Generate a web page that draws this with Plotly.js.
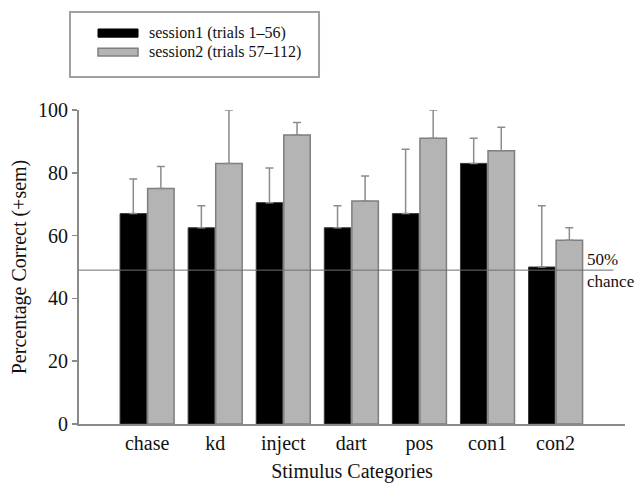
<!DOCTYPE html>
<html>
<head>
<meta charset="utf-8">
<script src="https://cdn.plot.ly/plotly-3.0.1.min.js"></script>
<style>html,body{margin:0;padding:0;background:#fff;}#chart{width:637px;height:486px;}</style>
</head>
<body>
<div id="chart"></div>
<script>
const categories = ["chase", "kd", "inject", "dart", "pos", "con1", "con2"];
const session1 = [67, 62.5, 70.5, 62.5, 67, 83, 50];
const session1Sem = [11, 7, 11, 7, 20.5, 8, 19.5];
const session2 = [75, 83, 92, 71, 91, 87, 58.5];
const session2Sem = [7, 17, 4, 8, 9, 7.5, 4];
const seriesNames = ["session1 (trials 1\u201356)", "session2 (trials 57\u2013112)"];
const chanceLevel = 49;
const yTicks = [0, 20, 40, 60, 80, 100];

const serif = "Liberation Serif";
const zeros = categories.map(() => 0);

const traces = [
  {
    type: "bar", name: seriesNames[0], x: categories, y: session1,
    marker: {color: "#000000", line: {color: "#3a3a3a", width: 1}},
    error_y: {type: "data", symmetric: false, array: session1Sem, arrayminus: zeros,
              color: "#8c8c8c", thickness: 1.5, width: 4},
    showlegend: false
  },
  {
    type: "bar", name: seriesNames[1], x: categories, y: session2,
    marker: {color: "#b4b4b4", line: {color: "#7f7f7f", width: 1.5}},
    error_y: {type: "data", symmetric: false, array: session2Sem, arrayminus: zeros,
              color: "#8c8c8c", thickness: 1.5, width: 4},
    showlegend: false
  }
];

const layout = {
  width: 637, height: 486,
  margin: {l: 79, r: 12, t: 110, b: 62},
  paper_bgcolor: "#ffffff", plot_bgcolor: "#ffffff",
  font: {family: serif, size: 19, color: "#111"},
  barmode: "group", bargap: 0.19, bargroupgap: 0.04,
  showlegend: false,
  xaxis: {
    type: "category", range: [-1, 7.02],
    showline: true, linecolor: "#8a8a8a", linewidth: 2,
    ticks: "", showgrid: false, zeroline: false,
    tickfont: {family: serif, size: 20, color: "#111"},
    title: {text: "Stimulus Categories", font: {family: serif, size: 20, color: "#111"}, standoff: 10}
  },
  yaxis: {
    range: [0, 100], tickvals: yTicks,
    showline: true, linecolor: "#8a8a8a", linewidth: 2,
    ticks: "outside", ticklen: 5, tickcolor: "#8a8a8a", tickwidth: 1.5,
    showgrid: false, zeroline: false,
    tickfont: {family: serif, size: 20, color: "#111"},
    title: {text: "Percentage Correct (+sem)", font: {family: serif, size: 20, color: "#111"}, standoff: 6}
  },
  shapes: [
    {type: "line", xref: "x", yref: "y", x0: -1, x1: 6.85, y0: chanceLevel, y1: chanceLevel,
     line: {color: "#6e6e6e", width: 1}},
    {type: "rect", xref: "paper", yref: "paper", x0: -0.0165, x1: 0.4396, y0: 1.105, y1: 1.312,
     line: {color: "#a0a0a0", width: 2}, fillcolor: "rgba(0,0,0,0)"},
    {type: "rect", xref: "paper", yref: "paper", x0: 0.0348, x1: 0.1081, y0: 1.232, y1: 1.258,
     line: {color: "#000", width: 1}, fillcolor: "#000"},
    {type: "rect", xref: "paper", yref: "paper", x0: 0.0348, x1: 0.1081, y0: 1.172, y1: 1.197,
     line: {color: "#7f7f7f", width: 1.5}, fillcolor: "#b4b4b4"}
  ],
  annotations: [
    {xref: "x", yref: "y", x: 6.43, y: chanceLevel, xanchor: "left", yanchor: "middle",
     text: "50%<br>chance", showarrow: false, align: "left",
     font: {family: serif, size: 17, color: "#111"}},
    {xref: "paper", yref: "paper", x: 0.1245, y: 1.245, xanchor: "left", yanchor: "middle",
     text: seriesNames[0], showarrow: false, font: {family: serif, size: 16, color: "#111"}},
    {xref: "paper", yref: "paper", x: 0.1245, y: 1.185, xanchor: "left", yanchor: "middle",
     text: seriesNames[1], showarrow: false, font: {family: serif, size: 16, color: "#111"}}
  ]
};

Plotly.newPlot("chart", traces, layout, {displayModeBar: false, staticPlot: true});
</script>
</body>
</html>
